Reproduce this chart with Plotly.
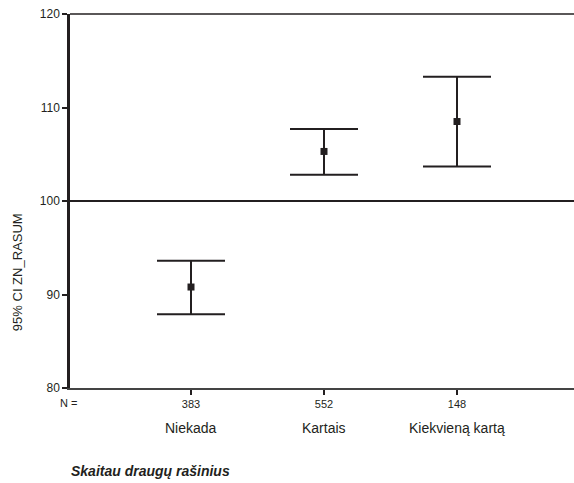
import plotly.graph_objects as go

# Group means with 95% confidence limits of ZN_RASUM
categories = ["Niekada", "Kartais", "Kiekvieną kartą"]
n_counts = ["383", "552", "148"]
means = [90.8, 105.3, 108.5]
ci_upper = [93.6, 107.7, 113.3]
ci_lower = [87.9, 102.8, 103.7]
ref_value = 100
y_ticks = [80, 90, 100, 110, 120]

x_pos = list(range(1, len(categories) + 1))
err_plus = [u - m for u, m in zip(ci_upper, means)]
err_minus = [m - l for m, l in zip(means, ci_lower)]

ink = "#231f20"
font_family = "Liberation Sans, Arial, sans-serif"

fig = go.Figure()
fig.add_trace(go.Scatter(
    x=x_pos, y=means, mode="markers",
    marker=dict(symbol="square", size=7, color=ink),
    error_y=dict(type="data", symmetric=False, array=err_plus, arrayminus=err_minus,
                 color=ink, thickness=2, width=34),
    showlegend=False, hoverinfo="skip",
))

# Reference line at 100 and the top frame line
fig.add_shape(type="line", xref="paper", x0=0, x1=1, yref="y", y0=ref_value, y1=ref_value,
              line=dict(color=ink, width=2))
fig.add_shape(type="line", xref="paper", x0=0, x1=1, yref="paper", y0=1, y1=1,
              line=dict(color=ink, width=1.5))

# Category names below the N counts
for xp, cat in zip(x_pos, categories):
    fig.add_annotation(x=xp, xref="x", y=-0.107, yref="paper", text=cat, showarrow=False,
                       font=dict(size=14, color=ink, family=font_family),
                       xanchor="center", yanchor="middle")

fig.add_annotation(x=-0.024, xref="paper", y=-0.04, yref="paper", text="N =", showarrow=False,
                   font=dict(size=11, color=ink, family=font_family),
                   xanchor="left", yanchor="middle")

fig.add_annotation(x=-0.002, xref="paper", y=-0.223, yref="paper",
                   text="<b><i>Skaitau draugų rašinius</i></b>", showarrow=False,
                   font=dict(size=14, color=ink, family=font_family),
                   xanchor="left", yanchor="middle")

fig.add_annotation(x=-0.105, xref="paper", y=0.31, yref="paper", text="95% CI ZN_RASUM",
                   showarrow=False, textangle=-90,
                   font=dict(size=13, color=ink, family=font_family),
                   xanchor="center", yanchor="middle")

fig.update_xaxes(
    range=[1 - 121 / 133, 1 + 383 / 133],
    tickmode="array", tickvals=x_pos, ticktext=n_counts,
    ticks="outside", ticklen=5, tickwidth=2, tickcolor=ink,
    showline=True, linecolor="#444", linewidth=1.5,
    showgrid=False, zeroline=False,
    tickfont=dict(size=11, color=ink, family=font_family),
)
fig.update_yaxes(
    range=[80, 120],
    tickmode="array", tickvals=y_ticks,
    ticks="outside", ticklen=5, tickwidth=2, tickcolor=ink,
    showline=True, linecolor=ink, linewidth=2.5,
    showgrid=False, zeroline=False,
    tickfont=dict(size=12, color=ink, family=font_family),
)

fig.update_layout(
    width=574, height=483,
    margin=dict(l=70, r=0, t=14, b=95),
    plot_bgcolor="white", paper_bgcolor="white",
    font=dict(family=font_family, color=ink),
)

fig.write_html("out.html")
